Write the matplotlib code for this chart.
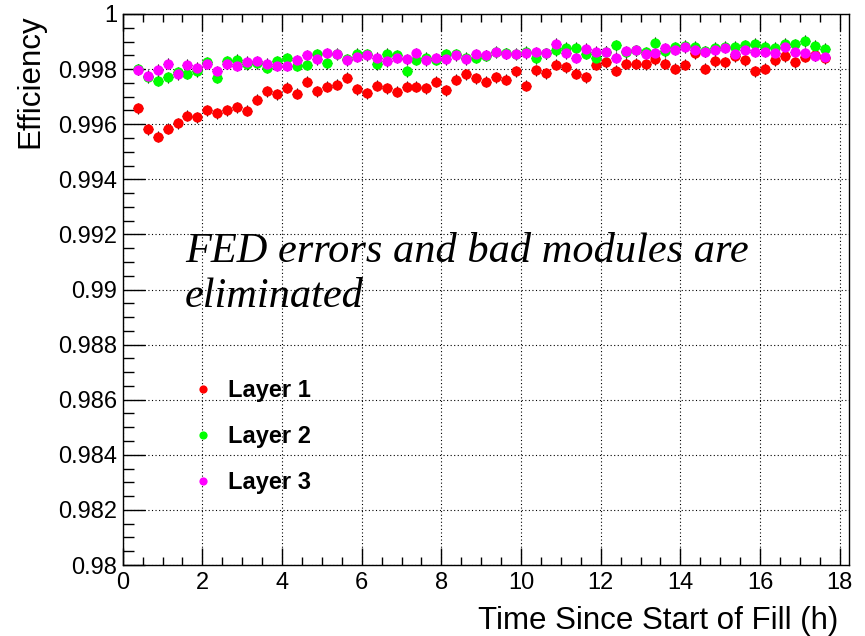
import matplotlib
matplotlib.use("Agg")
import matplotlib.pyplot as plt
from matplotlib.ticker import MultipleLocator

plt.rcParams["font.family"] = ["Liberation Sans", "DejaVu Sans"]

# time-bin centres (h), 15 min bins
time_h = [
    0.375, 0.625, 0.875, 1.125, 1.375, 1.625, 1.875, 2.125, 2.375, 2.625,
    2.875, 3.125, 3.375, 3.625, 3.875, 4.125, 4.375, 4.625, 4.875, 5.125,
    5.375, 5.625, 5.875, 6.125, 6.375, 6.625, 6.875, 7.125, 7.375, 7.625,
    7.875, 8.125, 8.375, 8.625, 8.875, 9.125, 9.375, 9.625, 9.875, 10.125,
    10.375, 10.625, 10.875, 11.125, 11.375, 11.625, 11.875, 12.125, 12.375, 12.625,
    12.875, 13.125, 13.375, 13.625, 13.875, 14.125, 14.375, 14.625, 14.875, 15.125,
    15.375, 15.625, 15.875, 16.125, 16.375, 16.625, 16.875, 17.125, 17.375, 17.625,
]

eff_layer1 = [
    0.99657, 0.99582, 0.99555, 0.99584, 0.99604, 0.99630, 0.99625, 0.99650, 0.99640, 0.99650,
    0.99662, 0.99648, 0.99689, 0.99719, 0.99709, 0.99732, 0.99710, 0.99754, 0.99719, 0.99736,
    0.99744, 0.99768, 0.99727, 0.99712, 0.99739, 0.99730, 0.99718, 0.99736, 0.99736, 0.99730,
    0.99754, 0.99724, 0.99761, 0.99781, 0.99766, 0.99754, 0.99771, 0.99761, 0.99793, 0.99739,
    0.99795, 0.99785, 0.99815, 0.99806, 0.99783, 0.99771, 0.99816, 0.99824, 0.99794, 0.99819,
    0.99819, 0.99817, 0.99836, 0.99819, 0.99801, 0.99815, 0.99858, 0.99801, 0.99828, 0.99824,
    0.99846, 0.99832, 0.99793, 0.99801, 0.99832, 0.99846, 0.99824, 0.99844, 0.99851, 0.99839,
]

eff_layer2 = [
    0.99800, 0.99770, 0.99758, 0.99770, 0.99788, 0.99783, 0.99792, 0.99824, 0.99768, 0.99829,
    0.99834, 0.99817, 0.99822, 0.99805, 0.99829, 0.99839, 0.99812, 0.99815, 0.99853, 0.99822,
    0.99856, 0.99836, 0.99856, 0.99853, 0.99817, 0.99856, 0.99851, 0.99793, 0.99834, 0.99841,
    0.99834, 0.99853, 0.99853, 0.99841, 0.99841, 0.99848, 0.99863, 0.99858, 0.99856, 0.99863,
    0.99839, 0.99858, 0.99868, 0.99877, 0.99877, 0.99856, 0.99839, 0.99863, 0.99887, 0.99861,
    0.99868, 0.99861, 0.99895, 0.99865, 0.99880, 0.99885, 0.99882, 0.99865, 0.99877, 0.99882,
    0.99882, 0.99887, 0.99892, 0.99882, 0.99877, 0.99892, 0.99890, 0.99902, 0.99885, 0.99873,
]

eff_layer3 = [
    0.99797, 0.99776, 0.99797, 0.99819, 0.99781, 0.99815, 0.99805, 0.99819, 0.99793, 0.99819,
    0.99812, 0.99827, 0.99829, 0.99819, 0.99812, 0.99812, 0.99832, 0.99851, 0.99836, 0.99858,
    0.99853, 0.99832, 0.99844, 0.99851, 0.99841, 0.99829, 0.99841, 0.99836, 0.99858, 0.99832,
    0.99839, 0.99836, 0.99851, 0.99836, 0.99853, 0.99851, 0.99861, 0.99856, 0.99853, 0.99858,
    0.99861, 0.99858, 0.99892, 0.99858, 0.99841, 0.99873, 0.99863, 0.99863, 0.99841, 0.99865,
    0.99868, 0.99856, 0.99858, 0.99875, 0.99870, 0.99880, 0.99870, 0.99863, 0.99868, 0.99877,
    0.99853, 0.99870, 0.99863, 0.99863, 0.99858, 0.99880, 0.99863, 0.99858, 0.99848, 0.99844,
]

layers = [
    ("Layer 1", eff_layer1, "#ff0000"),
    ("Layer 2", eff_layer2, "#00ff00"),
    ("Layer 3", eff_layer3, "#ff00ff"),
]

half_bin = 0.125
eff_err = 0.0002

fig = plt.figure(figsize=(8.65, 6.36), dpi=100)
ax = fig.add_axes([0.1419, 0.1116, 0.9818 - 0.1419, 0.978 - 0.1116])

for label, eff, color in layers:
    ax.errorbar(time_h, eff, xerr=half_bin, yerr=eff_err, fmt="o", color=color,
                markersize=7.4, markeredgewidth=0, ecolor="black", elinewidth=0.8,
                capsize=0, label=label)

ax.set_xlim(0, 18.24)
ax.set_ylim(0.98, 1.0)
ax.xaxis.set_major_locator(MultipleLocator(2))
ax.xaxis.set_minor_locator(MultipleLocator(0.5))
ax.yaxis.set_major_locator(MultipleLocator(0.002))
ax.yaxis.set_minor_locator(MultipleLocator(0.0005))
ax.yaxis.set_major_formatter(plt.FuncFormatter(lambda v, _: f"{v:.3f}".rstrip("0").rstrip(".")))

ax.tick_params(axis="both", which="both", direction="in", top=True, right=False,
               labelsize=17, width=1)
ax.tick_params(axis="y", which="major", length=15.8, pad=4)
ax.tick_params(axis="y", which="minor", length=7.9)
ax.tick_params(axis="x", which="major", length=11.9, pad=5)
ax.tick_params(axis="x", which="minor", length=6)

ax.grid(True, which="major", color="black", linestyle=(0, (1, 2.2)), linewidth=0.8)
ax.set_axisbelow(True)
for s in ax.spines.values():
    s.set_linewidth(1)

ax.set_xlabel("Time Since Start of Fill (h)", fontsize=22.5, ha="right")
ax.xaxis.set_label_coords(0.985, -0.075)
ax.set_ylabel("Efficiency", fontsize=22.5, ha="right")
ax.yaxis.set_label_coords(-0.107, 1.0)

note_font = dict(family="Liberation Serif", style="italic", fontsize=30.5)
ax.text(1.56, 0.99100, "FED errors and bad modules are", **note_font)
ax.text(1.56, 0.98935, "eliminated", **note_font)

handles, labels = ax.get_legend_handles_labels()
handles = [h[0] for h in handles]
ax.legend(handles, labels, loc="upper left", bbox_to_anchor=(0.221, 0.404),
          bbox_transform=fig.transFigure, frameon=False, borderpad=0,
          borderaxespad=0, handlelength=1.0, handletextpad=0.55, labelspacing=0.97,
          prop=dict(weight="bold", size=17), markerscale=0.8)

fig.savefig("out.png", dpi=100)
